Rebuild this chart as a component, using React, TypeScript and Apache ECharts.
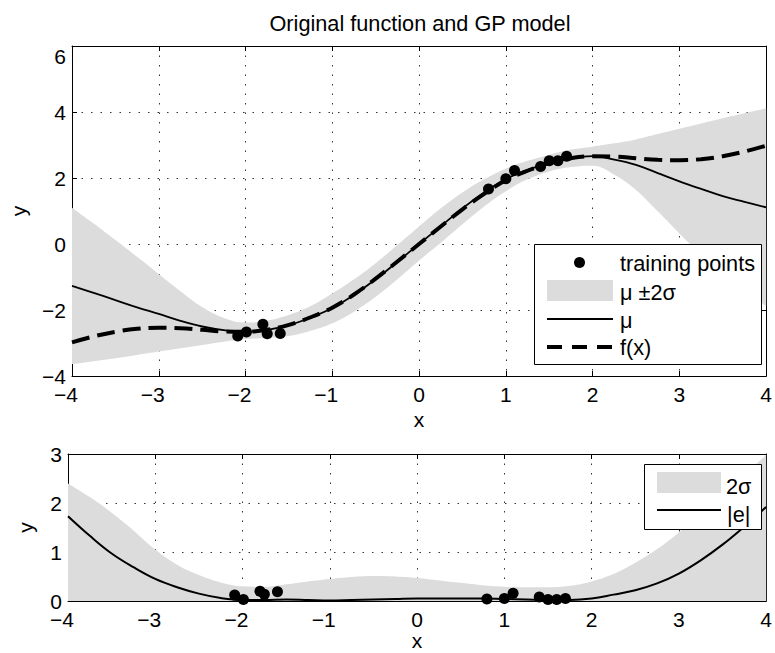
import React, { useEffect, useRef } from 'react';
import * as echarts from 'echarts';

const FONT = '"Liberation Sans", Arial, Helvetica, sans-serif';
const FS = 21;
const FS_TEXT = 21.7;

// sample positions along x
const xGrid = [-4, -3.75, -3.5, -3.25, -3, -2.75, -2.5, -2.25, -2, -1.75, -1.5, -1.25, -1, -0.75, -0.5, -0.25, 0,
  0.25, 0.5, 0.75, 1, 1.25, 1.5, 1.75, 2, 2.25, 2.5, 2.75, 3, 3.25, 3.5, 3.75, 4];
// original function f(x)
const fTrue = [-2.98, -2.8, -2.66, -2.57, -2.54, -2.55, -2.6, -2.65, -2.66, -2.6, -2.45, -2.22, -1.93, -1.53, -1.05, -0.53, 0,
  0.53, 1.05, 1.52, 1.93, 2.22, 2.45, 2.6, 2.66, 2.65, 2.6, 2.55, 2.54, 2.57, 2.66, 2.8, 2.98];
// GP mean
const gpMean = [-1.27, -1.48, -1.7, -1.92, -2.12, -2.33, -2.5, -2.61, -2.66, -2.6, -2.46, -2.23, -1.94, -1.54, -1.07, -0.54, 0,
  0.54, 1.08, 1.56, 1.97, 2.25, 2.45, 2.6, 2.66, 2.56, 2.4, 2.15, 1.9, 1.67, 1.45, 1.28, 1.11];
// upper / lower edge of mu +- 2 sigma
const bandUpper = [1.1, 0.62, 0.12, -0.39, -0.91, -1.43, -1.91, -2.24, -2.38, -2.32, -2.15, -1.88, -1.5, -1.07, -0.58, -0.03, 0.53,
  1.08, 1.56, 1.96, 2.28, 2.52, 2.7, 2.86, 2.95, 3.05, 3.17, 3.33, 3.49, 3.65, 3.81, 3.96, 4.11];
const bandLower = [-3.64, -3.55, -3.46, -3.36, -3.26, -3.16, -3.06, -2.96, -2.88, -2.85, -2.79, -2.63, -2.4, -2.05, -1.6, -1.07, -0.5,
  0.04, 0.6, 1.14, 1.6, 1.96, 2.2, 2.33, 2.37, 2.1, 1.64, 0.99, 0.32, -0.32, -0.9, -1.42, -1.88];
// 2 sigma (lower plot)
const twoSigma = [2.4, 2.12, 1.8, 1.44, 1.05, 0.74, 0.53, 0.38, 0.3, 0.29, 0.34, 0.4, 0.45, 0.49, 0.51, 0.5, 0.47,
  0.42, 0.37, 0.32, 0.29, 0.28, 0.28, 0.31, 0.4, 0.55, 0.78, 1.06, 1.4, 1.78, 2.18, 2.58, 2.98];
// absolute error |e|
const absErr = [1.73, 1.33, 0.97, 0.69, 0.45, 0.28, 0.15, 0.06, 0.02, 0.02, 0.03, 0.02, 0.01, 0.02, 0.03, 0.04, 0.05,
  0.05, 0.05, 0.05, 0.04, 0.03, 0.02, 0.02, 0.05, 0.13, 0.22, 0.36, 0.56, 0.83, 1.15, 1.52, 1.92];
// training points
const trainX = [-2.09, -1.99, -1.8, -1.75, -1.6, 0.8, 1.0, 1.1, 1.4, 1.5, 1.6, 1.7];
const trainY = [-2.79, -2.67, -2.43, -2.72, -2.71, 1.67, 1.98, 2.23, 2.35, 2.52, 2.52, 2.66];
const trainErr = [0.12, 0.03, 0.2, 0.14, 0.19, 0.04, 0.05, 0.16, 0.08, 0.03, 0.03, 0.05];

const titleText = 'Original function and GP model';
const legendTop = ['training points', 'μ ±2σ', 'μ', 'f(x)'];
const legendBottom = ['2σ', '|e|'];

const BAND = '#dcdcdc';
const base = { fontFamily: FONT, fontSize: FS, color: '#000' };
const lab = { ...base, lineHeight: 16 };
const gridDash = { color: '#333', width: 1, type: [1.5, 8] as number[] };

const fmtX = (v: number) => (v < 0 ? `{n|\u2212${-v}}` : `{p|${v}}`);
const richX = { n: { ...lab, padding: [0, 12, 0, 0] }, p: { ...lab } };

function xAxes(gridIndex: number, nameGap: number) {
  return [
    {
      type: 'value', gridIndex, position: 'bottom', min: -4, max: 4, interval: 1,
      axisLine: { show: true, onZero: false, lineStyle: { color: '#000', width: 1 } },
      axisTick: { show: true, inside: true, length: 5, lineStyle: { color: '#000' } },
      axisLabel: { margin: 10, formatter: fmtX, rich: richX, ...lab },
      splitLine: { show: true, lineStyle: gridDash },
      name: 'x', nameLocation: 'middle', nameGap, nameTextStyle: { ...base },
    },
    {
      type: 'value', gridIndex, position: 'top', min: -4, max: 4, interval: 1,
      axisLine: { show: true, onZero: false, lineStyle: { color: '#000', width: 1 } },
      axisTick: { show: true, inside: true, length: 5, lineStyle: { color: '#000' } },
      axisLabel: { show: false },
      splitLine: { show: false },
    },
  ];
}

function yAxes(gridIndex: number, min: number, max: number, interval: number, nameGap: number, topShift: boolean) {
  const fmt = (v: number) => {
    if (topShift && v === max) return `{t|${v}}`;
    return v < 0 ? `{p|\u2212${-v}}` : `{p|${v}}`;
  };
  return [
    {
      type: 'value', gridIndex, position: 'left', min, max, interval,
      axisLine: { show: true, onZero: false, lineStyle: { color: '#000', width: 1 } },
      axisTick: { show: true, inside: true, length: 5, lineStyle: { color: '#000' } },
      axisLabel: { margin: 6, formatter: fmt, rich: { p: { ...lab }, t: { ...lab, padding: [20, 0, 0, 0] } }, ...lab },
      splitLine: { show: true, lineStyle: gridDash },
      name: 'y', nameLocation: 'middle', nameGap, nameTextStyle: { ...base },
    },
    {
      type: 'value', gridIndex, position: 'right', min, max, interval,
      axisLine: { show: true, onZero: false, lineStyle: { color: '#000', width: 1 } },
      axisTick: { show: true, inside: true, length: 5, lineStyle: { color: '#000' } },
      axisLabel: { show: false },
      splitLine: { show: false },
    },
  ];
}

const pairs = (ys: number[]) => xGrid.map((x, i) => [x, ys[i]]);

function legendText(text: string, x: number, y: number) {
  return {
    type: 'text', z: 101, x, y,
    style: { text, fontFamily: FONT, fontSize: FS_TEXT, fill: '#000', verticalAlign: 'middle', align: 'left' },
  };
}

export default function App() {
  const ref = useRef<HTMLDivElement>(null);
  useEffect(() => {
    document.body.style.margin = '0';
    const chart = echarts.init(ref.current!, null, { renderer: 'svg' });
    const option: any = {
      animation: false,
      backgroundColor: '#fff',
      title: {
        text: titleText, left: 420, top: 12, padding: 0, textAlign: 'center',
        textStyle: { ...base, fontSize: FS_TEXT, fontWeight: 'normal' },
      },
      grid: [
        { left: 68, top: 46, width: 704, height: 330 },
        { left: 68, top: 454, width: 704, height: 147 },
      ],
      xAxis: [
        ...xAxes(0, 33),
        ...xAxes(1, 29),
        // hidden category axis (same positions as xGrid) so the band can be stacked by sample
        { type: 'category', gridIndex: 0, data: xGrid.map(String), boundaryGap: false, show: false },
      ],
      yAxis: [...yAxes(0, -4, 6, 2, 43, true), ...yAxes(1, 0, 3, 1, 32, false)],
      series: [
        {
          name: 'bandBase', type: 'line', xAxisIndex: 4, yAxisIndex: 0, data: bandLower,
          stack: 'band', stackStrategy: 'all', symbol: 'none', smooth: 0.4,
          lineStyle: { width: 0, opacity: 0 }, silent: true, z: 1,
        },
        {
          name: legendTop[1], type: 'line', xAxisIndex: 4, yAxisIndex: 0,
          data: bandUpper.map((u, i) => u - bandLower[i]),
          stack: 'band', stackStrategy: 'all', symbol: 'none', smooth: 0.4,
          lineStyle: { width: 0, opacity: 0 }, areaStyle: { color: BAND, opacity: 1 }, z: 1,
        },
        {
          name: legendTop[2], type: 'line', xAxisIndex: 0, yAxisIndex: 0, data: pairs(gpMean),
          symbol: 'none', smooth: 0.4, lineStyle: { color: '#000', width: 1.8 }, z: 3,
        },
        {
          name: legendTop[3], type: 'line', xAxisIndex: 0, yAxisIndex: 0, data: pairs(fTrue),
          symbol: 'none', smooth: 0.4, lineStyle: { color: '#000', width: 4, type: [18, 8] }, z: 3,
        },
        {
          name: legendTop[0], type: 'scatter', xAxisIndex: 0, yAxisIndex: 0,
          data: trainX.map((x, i) => [x, trainY[i]]), symbolSize: 11, itemStyle: { color: '#000', opacity: 1 }, z: 5,
        },
        {
          name: legendBottom[0], type: 'line', xAxisIndex: 2, yAxisIndex: 2, data: pairs(twoSigma),
          symbol: 'none', smooth: 0.4, lineStyle: { width: 0, opacity: 0 }, areaStyle: { color: BAND, opacity: 1 }, z: 1,
        },
        {
          name: legendBottom[1], type: 'line', xAxisIndex: 2, yAxisIndex: 2, data: pairs(absErr),
          symbol: 'none', smooth: 0.4, lineStyle: { color: '#000', width: 2 }, z: 3,
        },
        {
          name: 'training error', type: 'scatter', xAxisIndex: 2, yAxisIndex: 2, clip: false,
          data: trainX.map((x, i) => [x, trainErr[i]]), symbolSize: 11, itemStyle: { color: '#000', opacity: 1 }, z: 5,
        },
      ],
      graphic: [
        { type: 'rect', z: 100, shape: { x: 534.5, y: 244.5, width: 227, height: 120 }, style: { fill: '#fff', stroke: '#000', lineWidth: 1 } },
        { type: 'circle', z: 101, shape: { cx: 579.5, cy: 262.5, r: 5.5 }, style: { fill: '#000' } },
        { type: 'rect', z: 101, shape: { x: 547, y: 280, width: 66, height: 21 }, style: { fill: BAND } },
        { type: 'line', z: 101, shape: { x1: 547, y1: 319, x2: 613, y2: 319 }, style: { stroke: '#000', lineWidth: 1.8 } },
        { type: 'line', z: 101, shape: { x1: 547, y1: 347, x2: 613, y2: 347 }, style: { stroke: '#000', lineWidth: 4, lineDash: [15, 10] } },
        legendText(legendTop[0], 620, 263),
        legendText(legendTop[1], 620, 292),
        legendText(legendTop[2], 620, 320),
        legendText(legendTop[3], 620, 347),
        { type: 'rect', z: 100, shape: { x: 644.5, y: 464.5, width: 117, height: 65 }, style: { fill: '#fff', stroke: '#000', lineWidth: 1 } },
        { type: 'rect', z: 101, shape: { x: 657, y: 472, width: 64, height: 21 }, style: { fill: BAND } },
        { type: 'line', z: 101, shape: { x1: 657, y1: 510, x2: 721, y2: 510 }, style: { stroke: '#000', lineWidth: 2 } },
        legendText(legendBottom[0], 726, 486),
        legendText(legendBottom[1], 727, 514),
      ],
    };
    chart.setOption(option);
    return () => chart.dispose();
  }, []);
  return <div ref={ref} style={{ position: 'absolute', left: 0, top: 0, width: 775, height: 653 }} />;
}
